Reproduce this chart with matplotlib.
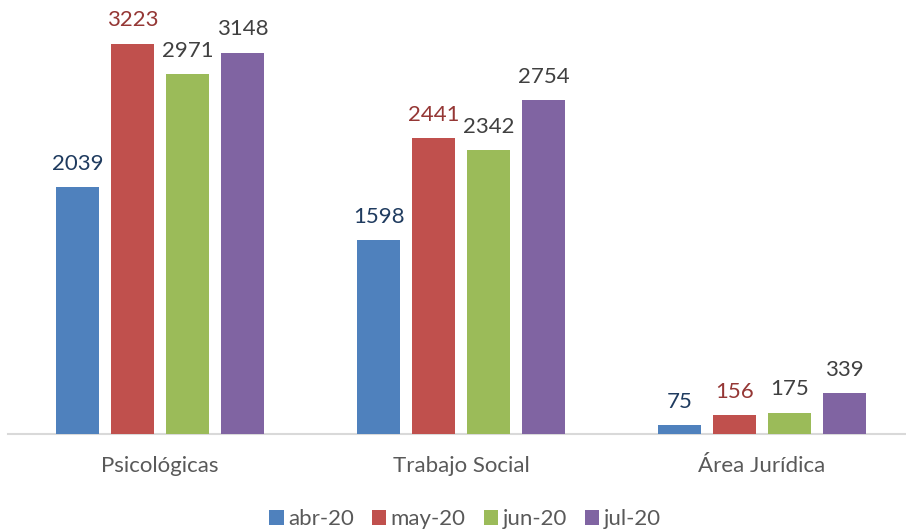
import numpy as np
import matplotlib
matplotlib.use("Agg")
import matplotlib.pyplot as plt

# ── data ──────────────────────────────────────────────────────────────
categories = ["Psicológicas", "Trabajo Social", "Área Jurídica"]
months = ["abr-20", "may-20", "jun-20", "jul-20"]
abr_20 = [2039, 1598, 75]
may_20 = [3223, 2441, 156]
jun_20 = [2971, 2342, 175]
jul_20 = [3148, 2754, 339]
series = [abr_20, may_20, jun_20, jul_20]

bar_colors = ["#4F81BD", "#C0504D", "#9BBB59", "#8064A2"]
label_colors = ["#1F3B5F", "#953735", "#404040", "#404040"]

plt.rcParams["font.family"] = ["Lato", "DejaVu Sans"]

fig = plt.figure(figsize=(9.06, 5.30), dpi=100)
ax = fig.add_axes([8 / 906, 1 - 434 / 530, 898 / 906, 424 / 530])

x = np.arange(len(categories))
step = 55 / 301
width = 43 / 301

for i, (vals, c, lc) in enumerate(zip(series, bar_colors, label_colors)):
    pos = x + (i - 1.5) * step
    bars = ax.bar(pos, vals, width=width, color=c, label=months[i], zorder=3)
    for b, v in zip(bars, vals):
        ax.text(b.get_x() + b.get_width() / 2, v + 110, f"{v}",
                ha="center", va="bottom", fontsize=16, color=lc)

ax.set_xlim(-0.505, 2.478)
ax.set_ylim(0, 3500)
ax.set_yticks([])
ax.set_xticks(x)
ax.set_xticklabels(categories, fontsize=16, color="#595959")
ax.tick_params(axis="x", length=0, pad=16)
for s in ["top", "right", "left"]:
    ax.spines[s].set_visible(False)
ax.spines["bottom"].set_color("#D9D9D9")
ax.spines["bottom"].set_linewidth(1.5)

leg = fig.legend(loc="center", bbox_to_anchor=(465 / 906, 1 - 519 / 530), ncol=4,
                 frameon=False, fontsize=16, handlelength=0.65, handleheight=0.65,
                 handletextpad=0.2, columnspacing=0.8, labelcolor="#595959")

fig.savefig("out.png", dpi=100)
